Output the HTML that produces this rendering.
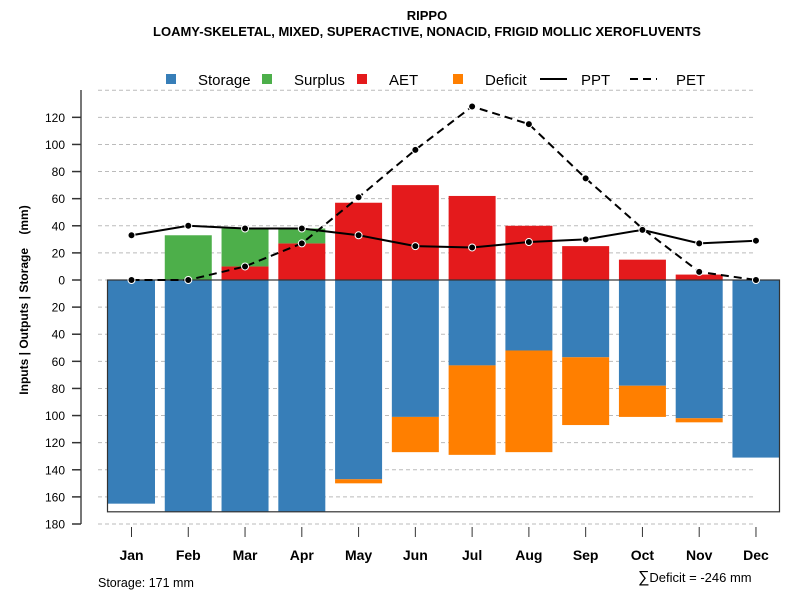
<!DOCTYPE html>
<html><head><meta charset="utf-8"><style>
body{margin:0;background:#fff}
svg{display:block;font-family:"Liberation Sans",Arial,sans-serif}
</style></head><body>
<svg id="chart" width="800" height="600" xmlns="http://www.w3.org/2000/svg">
<text x="427" y="20" text-anchor="middle" font-size="13" font-weight="bold">RIPPO</text>
<text x="427" y="36" text-anchor="middle" font-size="13" font-weight="bold">LOAMY-SKELETAL, MIXED, SUPERACTIVE, NONACID, FRIGID MOLLIC XEROFLUVENTS</text>
<g id="grid"></g>
<g id="bars"></g>
<rect x="107.5" y="280" width="672" height="231.8" fill="none" stroke="#333" stroke-width="1.2"/>
<g id="lines"></g>
<g id="yaxis"></g>
<g id="xaxis"></g>
<text transform="translate(28,300) rotate(-90)" text-anchor="middle" font-size="12" font-weight="bold" xml:space="preserve">Inputs | Outputs | Storage    (mm)</text>
<g>
<rect x="166" y="74" width="10" height="10" fill="#377eb8"/>
<text x="198" y="85" font-size="15">Storage</text>
<rect x="262" y="74" width="10" height="10" fill="#4daf4a"/>
<text x="294" y="85" font-size="15">Surplus</text>
<rect x="357" y="74" width="10" height="10" fill="#e41a1c"/>
<text x="389" y="85" font-size="15">AET</text>
<rect x="453" y="74" width="10" height="10" fill="#ff7f00"/>
<text x="485" y="85" font-size="15">Deficit</text>
<line x1="540" y1="79" x2="567" y2="79" stroke="#000" stroke-width="2"/>
<text x="581" y="85" font-size="15">PPT</text>
<line x1="630" y1="79" x2="657" y2="79" stroke="#000" stroke-width="2" stroke-dasharray="8,5"/>
<text x="676" y="85" font-size="15">PET</text>
</g>
<text x="98" y="587" font-size="12.5">Storage: 171 mm</text>
<text x="638" y="582" font-size="13"><tspan font-size="16">∑</tspan>Deficit = -246 mm</text>
</svg>
<script>
const months=["Jan","Feb","Mar","Apr","May","Jun","Jul","Aug","Sep","Oct","Nov","Dec"];
const storage=[165,171,171,171,147,101,63,52,57,78,102,131];
const deficit=[0,0,0,0,3,26,66,75,50,23,3,0];
const aet=[0,0,10,27,57,70,62,40,25,15,4,0];
const surplus=[0,33,28,11,0,0,0,0,0,0,0,0];
const ppt=[33,40,38,38,33,25,24,28,30,37,27,29];
const pet=[0,0,10,27,61,96,128,115,75,38,6,0];
const yTicks=[180,160,140,120,100,80,60,40,20,0,20,40,60,80,100,120];
const yTickVals=[-180,-160,-140,-120,-100,-80,-60,-40,-20,0,20,40,60,80,100,120];
const NS="http://www.w3.org/2000/svg";
const K=244/180;
function y(v){return 280-v*K;}
function x(i){return 131.5+i*56.77;}
function mk(p,t,a){const e=document.createElementNS(NS,t);for(const k in a)e.setAttribute(k,a[k]);p.appendChild(e);return e;}
const grid=document.getElementById('grid'),bars=document.getElementById('bars'),lines=document.getElementById('lines'),ya=document.getElementById('yaxis'),xa=document.getElementById('xaxis');
[...yTickVals,140].forEach(v=>{const l=mk(grid,'line',{x1:98,x2:756,y1:y(v),y2:y(v),stroke:'#bbb','stroke-dasharray':'4,3'});

});
const al=mk(ya,'line',{x1:81,x2:81,y1:90,y2:y(-180),stroke:'#777','stroke-width':2});


yTickVals.forEach((v,i)=>{const t=mk(ya,'line',{x1:72,x2:81,y1:y(v),y2:y(v),stroke:'#333','stroke-width':1.5});


const tx=mk(ya,'text',{x:65,y:y(v)+4.5,'text-anchor':'end','font-size':12});tx.textContent=yTicks[i];

});
const w=47;
months.forEach((m,i)=>{
 const cx=x(i),bx=cx-w/2;
 const s=mk(bars,'rect',{x:bx,y:280,width:w,height:storage[i]*K,fill:'#377eb8'});
 
 
 if(deficit[i]>0){const d=mk(bars,'rect',{x:bx,y:y(-storage[i]),width:w,height:deficit[i]*K,fill:'#ff7f00'});
 
 }
 if(aet[i]>0){const a=mk(bars,'rect',{x:bx,y:y(aet[i]),width:w,height:aet[i]*K,fill:'#e41a1c'});
 
 }
 if(surplus[i]>0){const su=mk(bars,'rect',{x:bx,y:y(aet[i]+surplus[i]),width:w,height:surplus[i]*K,fill:'#4daf4a'});
 
 }
 const tk=mk(xa,'line',{x1:cx,x2:cx,y1:527,y2:537,stroke:'#333'});
 
 
 const lb=mk(xa,'text',{x:cx,y:560,'text-anchor':'middle','font-size':14,'font-weight':'bold'});lb.textContent=m;
 
 
});
const zl=mk(bars,'line',{x1:107.5,x2:779.5,y1:280,y2:280,stroke:'#333'});


function series(arr,name,dash){
 const pl=mk(lines,'polyline',{points:arr.map((v,i)=>x(i)+','+y(v)).join(' '),fill:'none',stroke:'#000','stroke-width':2,'stroke-dasharray':dash});
 
 
 arr.forEach((v,i)=>{const c=mk(lines,'circle',{cx:x(i),cy:y(v),r:3.5,fill:'#000',stroke:'#fff','stroke-width':1});
 
 });
}
series(pet,'pet','8,5');
series(ppt,'ppt','none');
</script>
</body></html>
